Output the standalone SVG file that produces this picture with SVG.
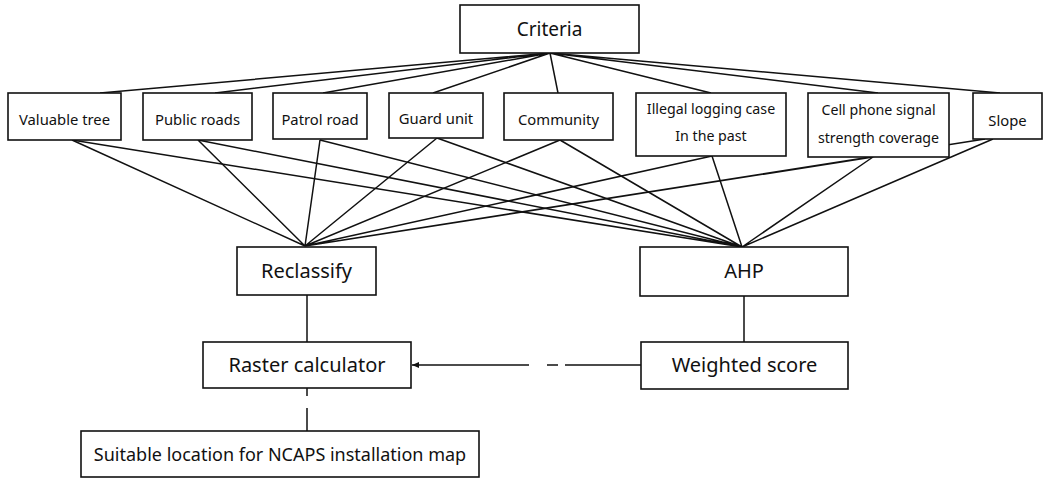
<svg xmlns="http://www.w3.org/2000/svg" width="1061" height="480" viewBox="0 0 1061 480">
<style>
.box{fill:#fff;stroke:#111;stroke-width:1.6}
.t{font-family:"Noto Sans","Open Sans",sans-serif;fill:#111;text-anchor:middle}
.s{font-size:14.8px}
.m{font-size:20px}
.c{stroke:#111;stroke-width:1.5;fill:none}
</style>
<defs>
<marker id="ah" markerWidth="8" markerHeight="8" refX="7" refY="4" orient="auto" markerUnits="userSpaceOnUse">
<path d="M0,1 L7,4 L0,7 Z" fill="#111"/>
</marker>
</defs>
<g id="connectors" class="c">
<path d="M550,53 L100,93 M550,53 L215,93 M550,53 L323,93 M550,53 L433,93 M550,53 L558,93 M550,53 L711,93 M550,53 L878,93 M550,53 L1000,93"/>
<path d="M72,140 L305,246 M198,140 L305,246 M320,140 L305,246 M437,138 L305,246 M560,140 L305,246 M712,156 L305,246 M873,157 L305,246 M985,139 L305,246"/>
<path d="M72,140 L742,247 M198,140 L742,247 M320,140 L742,247 M437,138 L742,247 M560,140 L742,247 M712,156 L742,247 M873,157 L742,247 M993,139 L742,247"/>
<path d="M307,295 L307,342 M744,296 L744,342 M307,388 L307,396 M307,408 L307,431"/>
<path d="M641,365 L565,365 M558,365 L547,365"/>
<line x1="529" y1="365" x2="412" y2="365" marker-end="url(#ah)"/>
</g>
<g id="criteria"><rect class="box" x="460" y="5" width="179" height="48"/><text class="t" x="549.5" y="36" font-size="19px">Criteria</text></g>
<g id="valuable-tree"><rect class="box" x="8" y="93" width="113" height="47"/><text class="t s" x="64.5" y="125">Valuable tree</text></g>
<g id="public-roads"><rect class="box" x="143" y="93" width="109" height="47"/><text class="t s" x="197.5" y="125">Public roads</text></g>
<g id="patrol-road"><rect class="box" x="273" y="93" width="94" height="46"/><text class="t s" x="320" y="125">Patrol road</text></g>
<g id="guard-unit"><rect class="box" x="389" y="93" width="94" height="45"/><text class="t s" x="436" y="124">Guard unit</text></g>
<g id="community"><rect class="box" x="504" y="93" width="109" height="47"/><text class="t s" x="558.5" y="125">Community</text></g>
<g id="illegal-logging"><rect class="box" x="636" y="93" width="150" height="63"/><text class="t" x="711" y="114" font-size="14.2px">Illegal logging case</text><text class="t" x="711" y="141" font-size="14.2px">In the past</text></g>
<g id="cell-phone"><rect class="box" x="808" y="93" width="141" height="64"/><text class="t" x="878.5" y="115" font-size="14.2px">Cell phone signal</text><text class="t" x="878.5" y="143" font-size="14.2px">strength coverage</text></g>
<g id="slope"><rect class="box" x="973" y="93" width="69" height="46"/><text class="t s" x="1007.5" y="126">Slope</text></g>
<g id="reclassify"><rect class="box" x="237" y="247" width="139" height="48"/><text class="t m" x="306.5" y="278">Reclassify</text></g>
<g id="ahp"><rect class="box" x="640" y="247" width="208" height="49"/><text class="t m" x="744" y="278">AHP</text></g>
<g id="raster-calculator"><rect class="box" x="203" y="342" width="208" height="46"/><text class="t m" x="307" y="372">Raster calculator</text></g>
<g id="weighted-score"><rect class="box" x="641" y="342" width="207" height="47"/><text class="t m" x="744.5" y="372">Weighted score</text></g>
<g id="suitable-location"><rect class="box" x="81" y="431" width="398" height="46"/><text class="t" x="280" y="461" font-size="18px">Suitable location for NCAPS installation map</text></g>
</svg>
